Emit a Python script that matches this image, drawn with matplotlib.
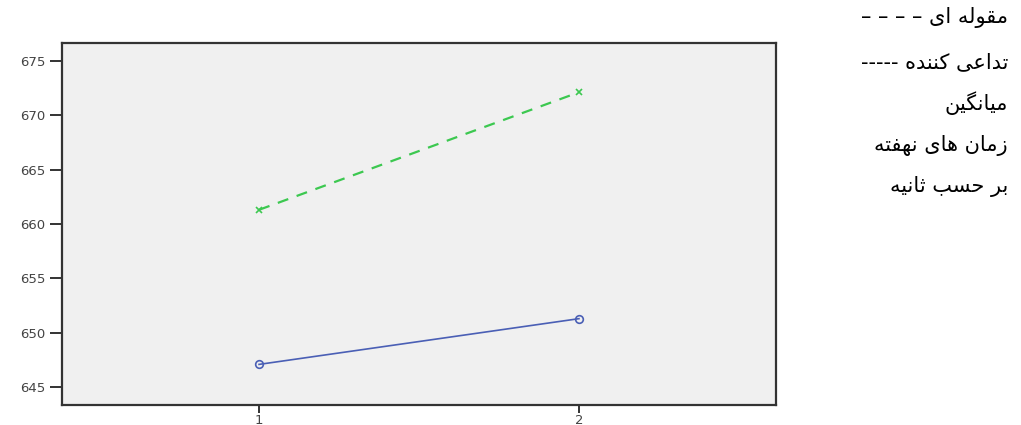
import matplotlib
matplotlib.use("Agg")
import matplotlib.pyplot as plt

# ---- data ----
conditions = [1, 2]
categorical = [661.3, 672.1]   # green dashed (مقوله ای)
associative = [647.1, 651.3]   # blue solid (تداعی کننده)
yticks = [645, 650, 655, 660, 665, 670, 675]
xticks = [1, 2]
legend_lines = ["مقوله ای", "تداعی کننده", "میانگین", "زمان های نهفته", "بر حسب ثانیه"]
legend_suffix = ["– – – –", "-----", "", "", ""]

# ---- minimal Arabic-script shaping (presentation forms) ----
FORMS = {
    'ا': ('\uFE8D', '\uFE8E', None, None),
    'ب': ('\uFE8F', '\uFE90', '\uFE91', '\uFE92'),
    'ت': ('\uFE95', '\uFE96', '\uFE97', '\uFE98'),
    'ث': ('\uFE99', '\uFE9A', '\uFE9B', '\uFE9C'),
    'ح': ('\uFEA1', '\uFEA2', '\uFEA3', '\uFEA4'),
    'د': ('\uFEA9', '\uFEAA', None, None),
    'ر': ('\uFEAD', '\uFEAE', None, None),
    'ز': ('\uFEAF', '\uFEB0', None, None),
    'س': ('\uFEB1', '\uFEB2', '\uFEB3', '\uFEB4'),
    'ع': ('\uFEC9', '\uFECA', '\uFECB', '\uFECC'),
    'ف': ('\uFED1', '\uFED2', '\uFED3', '\uFED4'),
    'ق': ('\uFED5', '\uFED6', '\uFED7', '\uFED8'),
    'ل': ('\uFEDD', '\uFEDE', '\uFEDF', '\uFEE0'),
    'م': ('\uFEE1', '\uFEE2', '\uFEE3', '\uFEE4'),
    'ن': ('\uFEE5', '\uFEE6', '\uFEE7', '\uFEE8'),
    'ه': ('\uFEE9', '\uFEEA', '\uFEEB', '\uFEEC'),
    'و': ('\uFEED', '\uFEEE', None, None),
    'ک': ('\uFB8E', '\uFB8F', '\uFB90', '\uFB91'),
    'گ': ('\uFB92', '\uFB93', '\uFB94', '\uFB95'),
    'ی': ('\uFBFC', '\uFBFD', '\uFBFE', '\uFBFF'),
}


def shape(text):
    out = []
    n = len(text)
    for i, ch in enumerate(text):
        f = FORMS.get(ch)
        if f is None:
            out.append(ch)
            continue
        prev = text[i - 1] if i > 0 else None
        nxt = text[i + 1] if i < n - 1 else None
        jp = prev in FORMS and FORMS[prev][2] is not None
        jn = nxt in FORMS and f[2] is not None
        if jp and jn:
            out.append(f[3])
        elif jp:
            out.append(f[1])
        elif jn:
            out.append(f[2])
        else:
            out.append(f[0])
    return ''.join(out)


def visual(text):
    return shape(text)[::-1]


# ---- figure ----
fig = plt.figure(figsize=(10.21, 4.25), dpi=100)
ax = fig.add_axes([62 / 1021, 20 / 425, (776 - 62) / 1021, (405 - 42.7) / 425])
ax.set_facecolor('#f0f0f0')

ax.plot(conditions, categorical, color='#3cc850', lw=1.6, dashes=(5, 4),
        marker='x', markersize=4, mew=1.2)
ax.plot(conditions, associative, color='#4a5fb5', lw=1.2,
        marker='o', markersize=5.5, mfc='none', mew=1.2)

ax.set_xlim(0.384, 2.616)
ax.set_ylim(643.37, 676.65)
ax.set_xticks(xticks)
ax.set_yticks(yticks)
ax.set_xticklabels([str(v) for v in xticks])
ax.set_yticklabels([str(v) for v in yticks])

for sp in ax.spines.values():
    sp.set_color('#333333')
    sp.set_linewidth(1.6)

ax.tick_params(axis='y', length=9, width=1.4, color='#333333', labelsize=9.5,
               labelcolor='#444444', pad=3)
ax.tick_params(axis='x', length=5.5, width=1.4, color='#333333', labelsize=9.5,
               labelcolor='#444444', pad=1)

ys = [18, 62, 103, 145, 187]
for txt, suf, yp in zip(legend_lines, legend_suffix, ys):
    s = visual(txt)
    if suf:
        s = suf + " " + s
    fig.text(1008 / 1021, 1 - yp / 425, s, ha='right', va='center',
             fontsize=15, family=['DejaVu Sans'], color='black')

fig.savefig('out.png', dpi=100)
